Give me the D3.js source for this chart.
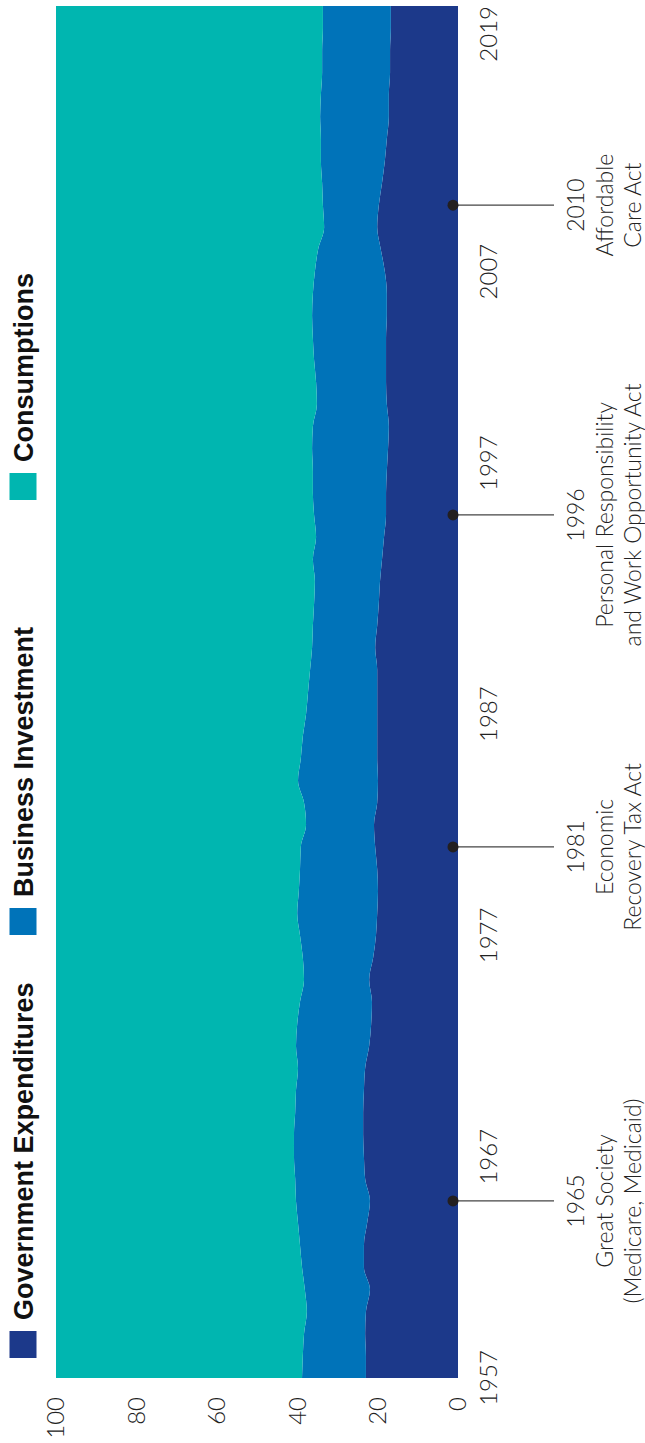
<!DOCTYPE html>
<html>
<head>
<meta charset="utf-8">
<script src="https://cdn.jsdelivr.net/npm/d3@7"></script>
<style>
  html, body { margin: 0; padding: 0; background: #ffffff; }
  svg { display: block; }
  .tick-label { font-family: Lato, "Open Sans", "DejaVu Sans", sans-serif; font-weight: 300; font-size: 24px; fill: #222; }
  .event-label { font-family: Lato, "Open Sans", "DejaVu Sans", sans-serif; font-weight: 300; font-size: 23px; fill: #222; }
  .legend-label { font-family: "Liberation Sans", Arial, sans-serif; font-weight: bold; font-size: 27px; fill: #111; }
</style>
</head>
<body>
<svg id="chart" width="645" height="1443"></svg>
<script>
// Share of GDP by component, 1957–2019 (percent)
const years = [1957,1958,1959,1960,1961,1962,1963,1964,1965,1966,1967,1968,1969,1970,
  1971,1972,1973,1974,1975,1976,1977,1978,1979,1980,1981,1982,1983,1984,1985,1986,
  1987,1988,1989,1990,1991,1992,1993,1994,1995,1996,1997,1998,1999,2000,2001,2002,
  2003,2004,2005,2006,2007,2008,2009,2010,2011,2012,2013,2014,2015,2016,2017,2018,2019];

const government = [22.9,22.9,23.1,22.9,21.9,23.4,23.4,22.6,21.9,23.1,23.4,23.6,23.6,23.4,
  23.1,22.1,21.6,21.4,22.1,21.1,20.4,20.1,19.9,20.1,20.6,20.9,20.1,19.9,20.1,20.1,
  20.1,20.1,20.1,20.6,20.1,19.7,19.4,18.9,18.4,17.9,17.9,17.7,17.4,17.2,17.7,17.9,
  17.9,17.9,17.7,17.7,18.2,19.2,20.1,19.7,18.9,18.2,17.7,17.2,17.2,16.9,16.9,16.7,16.7];

const business = [15.9,15.7,15.2,14.7,16.2,15.4,15.9,17.2,18.4,17.4,17.4,17.2,16.9,16.9,
  16.7,18.2,18.4,17.9,16.2,17.5,18.9,19.9,19.7,19.2,18.5,16.9,18.2,19.9,19.0,18.5,
  17.7,17.2,16.7,15.7,16.0,16.1,16.2,17.2,16.9,17.9,18.2,18.4,18.9,18.9,17.4,17.4,
  17.9,18.2,18.6,18.4,17.4,15.6,13.2,13.9,14.9,15.9,16.4,17.1,16.9,16.9,16.9,16.9,16.9];

const consumption = [61.2,61.4,61.7,62.4,61.9,61.2,60.7,60.2,59.7,59.5,59.2,59.2,59.5,59.7,
  60.2,59.7,60.0,60.7,61.7,61.4,60.7,60.0,60.4,60.7,60.9,62.2,61.7,60.2,60.9,61.4,
  62.2,62.7,63.2,63.7,63.9,64.2,64.4,63.9,64.7,64.2,63.9,63.9,63.7,63.9,64.9,64.7,
  64.2,63.9,63.7,63.9,64.4,65.2,66.7,66.4,66.2,65.9,65.9,65.7,65.9,66.2,66.2,66.4,66.4];

const seriesKeys = ["government", "business", "consumption"];
const seriesNames = ["Government Expenditures", "Business Investment", "Consumptions"];
const seriesColors = ["#1c398a", "#0073b9", "#00b6b0"];

const valueTicks = [0, 20, 40, 60, 80, 100];
const yearTicks = [1957, 1967, 1977, 1987, 1997, 2007, 2019];

const eventYears = [1965, 1981, 1996, 2010];
const eventTexts = [
  ["1965", "Great Society", "(Medicare, Medicaid)"],
  ["1981", "Economic", "Recovery Tax Act"],
  ["1996", "Personal Responsibility", "and Work Opportunity Act"],
  ["2010", "Affordable", "Care Act"]
];

// Layout: time runs bottom-to-top, share runs right-to-left
const plot = { left: 56, right: 458, top: 6, bottom: 1378 };

const svg = d3.select("#chart");

const yTime = d3.scaleLinear().domain([1957, 2019]).range([plot.bottom, plot.top]);
const xShare = d3.scaleLinear().domain([0, 100]).range([plot.right, plot.left]);
const color = d3.scaleOrdinal().domain(seriesKeys).range(seriesColors);

const rows = years.map((yr, i) => ({
  year: yr,
  government: government[i],
  business: business[i],
  consumption: consumption[i]
}));

const stacked = d3.stack().keys(seriesKeys)(rows);

const area = d3.area()
  .y(d => yTime(d.data.year))
  .x0(d => xShare(d[0]))
  .x1(d => xShare(d[1]))
  .curve(d3.curveMonotoneY);

svg.append("g").selectAll("path")
  .data(stacked)
  .join("path")
  .attr("d", area)
  .attr("fill", d => color(d.key));

// Share axis labels (below the plot)
svg.append("g").selectAll("text")
  .data(valueTicks)
  .join("text")
  .attr("class", "tick-label")
  .attr("transform", d => `translate(${xShare(d)},${plot.bottom + 19}) rotate(-90)`)
  .attr("dy", "0.35em")
  .attr("text-anchor", "end")
  .text(d => d);

// Year labels (right of the plot); a label that would sit on an
// annotation leader line is lifted so that it ends just above it.
const leaderYs = eventYears.map(yTime);
const yearLabels = svg.append("g").selectAll("text")
  .data(yearTicks)
  .join("text")
  .attr("class", "tick-label")
  .attr("dy", "0.35em")
  .text(d => d);

yearLabels.each(function(d) {
  const t = d3.select(this);
  const len = this.getComputedTextLength();
  let cy = yTime(d);
  let anchor = d === 2019 ? "end" : "middle";
  if (anchor === "middle") {
    const hit = leaderYs.find(ly => Math.abs(ly - cy) < len / 2 + 6);
    if (hit !== undefined) {
      cy = hit - 24;
      anchor = "start";
    }
  }
  t.attr("text-anchor", anchor)
   .attr("transform", `translate(${plot.right + 31},${cy}) rotate(-90)`);
});

// Policy event annotations
const ev = svg.append("g").selectAll("g")
  .data(eventYears.map((yr, i) => ({ year: yr, lines: eventTexts[i] })))
  .join("g")
  .attr("transform", d => `translate(0,${yTime(d.year)})`);

ev.append("line")
  .attr("x1", plot.right - 5)
  .attr("x2", plot.right + 96)
  .attr("y1", 0).attr("y2", 0)
  .attr("stroke", "#444")
  .attr("stroke-width", 1.2);

ev.append("circle")
  .attr("cx", plot.right - 5)
  .attr("cy", 0)
  .attr("r", 5.5)
  .attr("fill", "#231f20");

ev.each(function(d) {
  const g = d3.select(this);
  d.lines.forEach((line, j) => {
    g.append("text")
      .attr("class", "event-label")
      .attr("transform", `translate(${plot.right + 118 + j * 28.5},0) rotate(-90)`)
      .attr("dy", "0.35em")
      .attr("text-anchor", "middle")
      .text(line);
  });
});

// Legend (rotated, along the left edge)
const legendStarts = [1358, 935, 500];
const legend = svg.append("g").selectAll("g")
  .data(seriesKeys.map((k, i) => ({ key: k, name: seriesNames[i], start: legendStarts[i] })))
  .join("g")
  .attr("transform", d => `translate(23,${d.start}) rotate(-90)`);

legend.append("rect")
  .attr("x", 0).attr("y", -13.5)
  .attr("width", 27).attr("height", 27)
  .attr("fill", d => color(d.key));

legend.append("text")
  .attr("class", "legend-label")
  .attr("x", 38)
  .attr("dy", "0.36em")
  .text(d => d.name);
</script>
</body>
</html>
